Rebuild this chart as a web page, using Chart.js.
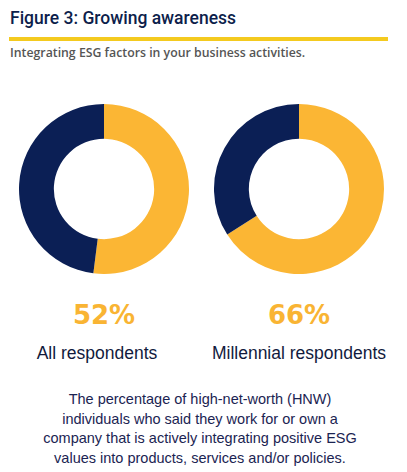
<!DOCTYPE html>
<html>
<head>
<meta charset="utf-8">
<script src="https://cdn.jsdelivr.net/npm/chart.js@4"></script>
<style>
  body { margin: 0; background: #fff; width: 407px; height: 472px; position: relative; overflow: hidden; font-family: "Liberation Sans", Arial, sans-serif; }
  .title { position: absolute; left: 10px; top: 8px; font-family: Roboto, sans-serif; font-weight: 500; font-size: 17.5px; color: #0d1e4b; }
  .rule { position: absolute; left: 9px; top: 37px; width: 379px; height: 4px; background: #f4ca1f; }
  .sub { position: absolute; left: 10px; top: 44px; font-family: "Open Sans", sans-serif; font-weight: 600; font-size: 12.3px; color: #555; }
  canvas { position: absolute; }
  .pct { position: absolute; width: 200px; margin-left: -100px; text-align: center; top: 300px; font-family: "DejaVu Sans", sans-serif; font-weight: 700; font-size: 26px; color: #f9b433; }
  .lab { position: absolute; width: 240px; margin-left: -120px; text-align: center; top: 343px; font-family: "Liberation Sans", Arial, sans-serif; font-size: 17.5px; color: #111a3d; }
  .note { position: absolute; left: 0; width: 400px; text-align: center; top: 390px; font-family: "Liberation Sans", Arial, sans-serif; font-size: 14.5px; line-height: 19.5px; color: #1b2452; }
</style>
</head>
<body>
<div class="title">Figure 3: Growing awareness</div>
<div class="rule"></div>
<div class="sub">Integrating ESG factors in your business activities.</div>

<canvas id="c1" width="170" height="170" style="left:19px;top:104px;width:170px;height:170px"></canvas>
<canvas id="c2" width="170" height="170" style="left:214px;top:104px;width:170px;height:170px"></canvas>

<div class="pct" id="p1" style="left:104px"></div>
<div class="pct" id="p2" style="left:299px"></div>
<div class="lab" id="l1" style="left:97px"></div>
<div class="lab" id="l2" style="left:299px"></div>

<div class="note">The percentage of high-net-worth (HNW)<br>individuals who said they work for or own a<br>company that is actively integrating positive ESG<br>values into products, services and/or policies.</div>

<script>
const groups = ['All respondents', 'Millennial respondents'];
const yesValues = [52, 66];
const noValues = [48, 34];
const sliceLabels = ['Integrating ESG', 'Not integrating'];
const sliceColors = ['#fbb634', '#0b1f55'];

function makeDonut(canvasId, i) {
    const ctx = document.getElementById(canvasId);
    return new Chart(ctx, {
        type: 'doughnut',
        data: {
            labels: sliceLabels,
            datasets: [{
                data: [yesValues[i], noValues[i]],
                backgroundColor: sliceColors,
                borderWidth: 0
            }]
        },
        options: {
            responsive: false,
            animation: false,
            cutout: '59%',
            layout: { padding: 0 },
            plugins: {
                legend: { display: false },
                tooltip: { enabled: false }
            }
        }
    });
}

makeDonut('c1', 0);
makeDonut('c2', 1);

document.getElementById('p1').textContent = yesValues[0] + '%';
document.getElementById('p2').textContent = yesValues[1] + '%';
document.getElementById('l1').textContent = groups[0];
document.getElementById('l2').textContent = groups[1];
</script>
</body>
</html>
